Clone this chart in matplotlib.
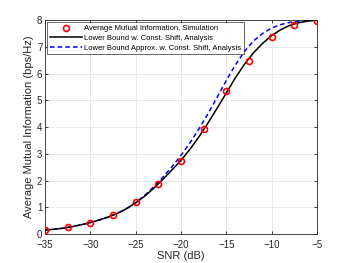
import numpy as np
import matplotlib
matplotlib.use("Agg")
import matplotlib.pyplot as plt

plt.rcParams['font.family'] = ['Liberation Sans', 'DejaVu Sans']

# simulation markers
snr_sim = [-35, -32.5, -30, -27.5, -25, -22.5, -20, -17.5, -15, -12.5, -10, -7.5, -5]
ami_sim = [0.15, 0.25, 0.43, 0.72, 1.18, 1.87, 2.74, 3.92, 5.33, 6.45, 7.38, 7.80, 7.95]

# analysis curves
snr_line = list(range(-35, -4))
lb_shift = [0.15, 0.18, 0.22, 0.28, 0.35, 0.43, 0.53, 0.64, 0.78, 0.95, 1.17, 1.42, 1.72, 2.05,
            2.40, 2.76, 3.18, 3.65, 4.17, 4.72, 5.28, 5.85, 6.35, 6.78, 7.13, 7.42, 7.64, 7.80,
            7.90, 7.96, 7.99]
lb_approx = [0.15, 0.18, 0.22, 0.28, 0.35, 0.43, 0.53, 0.64, 0.78, 0.96, 1.19, 1.45, 1.77, 2.13,
             2.52, 2.95, 3.42, 3.95, 4.52, 5.13, 5.75, 6.33, 6.83, 7.22, 7.50, 7.70, 7.83, 7.91,
             7.96, 7.99, 8.0]

fig = plt.figure(figsize=(3.5, 2.63), dpi=100)
ax = fig.add_axes([0.129, 0.110, 0.777, 0.814])

ax.plot(snr_sim, ami_sim, 'o', mfc='none', mec='red', ms=4.3, mew=1.2,
        label='Average Mutual Information, Simulation', zorder=4)
ax.plot(snr_line, lb_shift, '-', color='black', lw=1.1,
        label='Lower Bound w. Const. Shift, Analysis', zorder=3)
ax.plot(snr_line, lb_approx, '--', color='blue', lw=1.1, dashes=(3, 2),
        label='Lower Bound Approx. w. Const. Shift, Analysis', zorder=2)

ax.set_xlim(-35, -5)
ax.set_ylim(0, 8)
ax.set_xticks(np.arange(-35, -4, 5))
ax.set_yticks(np.arange(0, 9, 1))
ax.grid(True, color='#e3e3e3', lw=0.6)
ax.set_axisbelow(True)
ax.tick_params(direction='in', length=2.5, width=0.6, labelsize=7, colors='#262626', pad=2,
               top=True, right=True)
ax.tick_params(axis='x', pad=4)
for s in ax.spines.values():
    s.set_color('#262626')
    s.set_linewidth(0.6)

ax.set_xlabel('SNR (dB)', fontsize=8, color='#262626', labelpad=1)
ax.set_ylabel('Average Mutual Information (bps/Hz)', fontsize=8, color='#262626', labelpad=2)

leg = ax.legend(loc='upper left', fontsize=5.5, frameon=True, fancybox=False,
                edgecolor='#262626', borderpad=0.35, labelspacing=0.3, handlelength=4.2,
                handletextpad=0.3, borderaxespad=0.3)
leg.get_frame().set_linewidth(0.6)

fig.savefig('out.png', dpi=100)
